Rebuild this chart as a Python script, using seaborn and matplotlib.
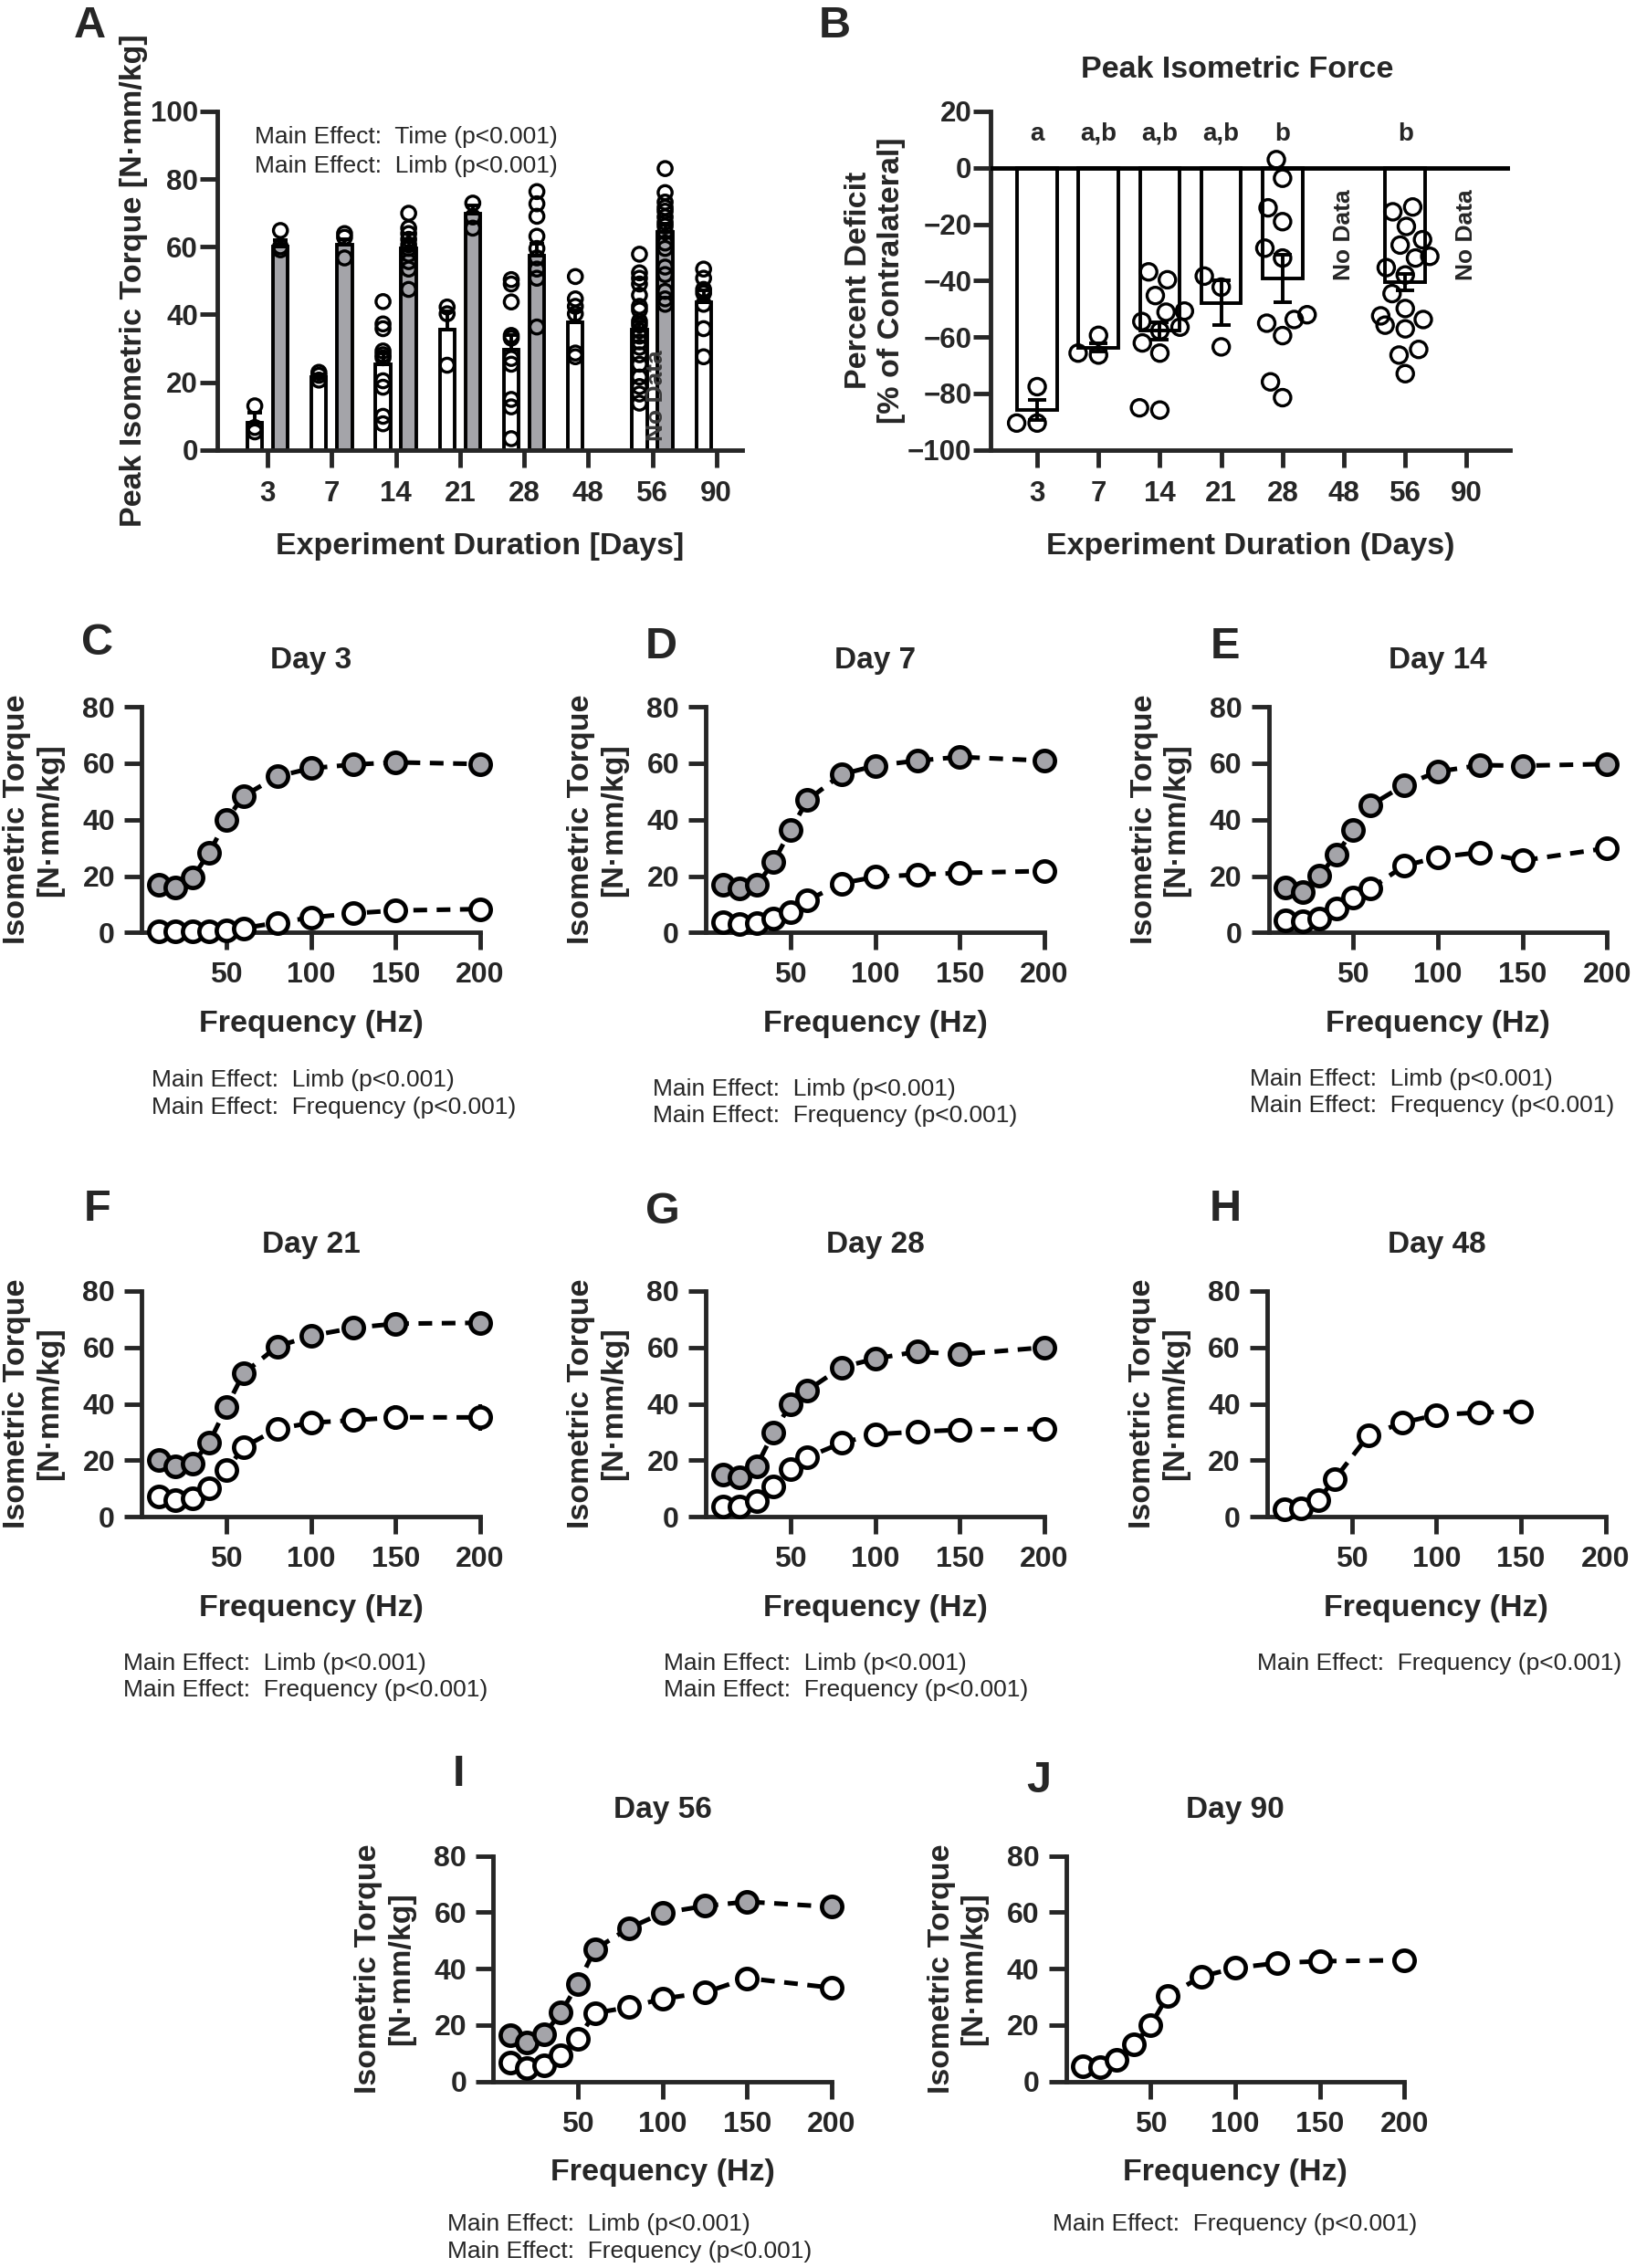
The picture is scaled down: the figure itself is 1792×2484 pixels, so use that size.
import numpy as np
import pandas as pd
import matplotlib
matplotlib.use("Agg")
import matplotlib.pyplot as plt
import seaborn as sns

# ---------------- Panel A: peak isometric torque [N·mm/kg] ----------------
days = ["3", "7", "14", "21", "28", "48", "56", "90"]
inj_mean = [8.0, 21.5, 25.3, 35.4, 29.5, 37.8, 35.5, 43.7]
inj_sem = [3.0, 0.7, 3.3, 5.5, 4.5, 3.5, 2.5, 3.5]
con_mean = [60.0, 60.6, 59.5, 69.7, 57.3, np.nan, 64.5, np.nan]
con_sem = [2.0, 1.5, 1.8, 2.5, 3.5, np.nan, 2.2, np.nan]
inj_points = [
    [13.0, 6.6, 5.3],
    [22.9, 22.0, 20.6],
    [43.8, 37.2, 35.8, 29.2, 28.1, 27.2, 20.4, 18.5, 9.9, 7.7],
    [42.2, 40.2, 25.0],
    [50.3, 49.0, 43.7, 33.8, 33.0, 27.0, 25.3, 14.9, 12.7, 3.3],
    [51.2, 44.6, 42.4, 40.2, 28.6, 27.5],
    [57.8, 52.3, 50.7, 49.0, 45.7, 42.4, 41.3, 38.0, 36.9, 35.2, 33.6, 31.9,
     30.3, 28.1, 25.3, 21.5, 18.7, 16.5, 13.8],
    [53.4, 50.7, 47.4, 46.3, 43.0, 35.8, 27.5],
]
con_points = [
    [64.8, 60.0, 59.1],
    [63.9, 62.8, 56.7],
    [69.9, 65.5, 63.9, 62.2, 60.6, 59.5, 57.8, 55.6, 53.4, 47.4],
    [72.9, 68.8, 65.5],
    [76.3, 72.7, 69.0, 63.1, 59.5, 56.7, 53.4, 50.7, 36.3],
    [],
    [83.1, 76.0, 73.2, 71.6, 70.5, 68.8, 67.2, 66.1, 64.4, 61.1, 59.5, 54.0,
     51.8, 46.8, 44.6, 43.0],
    [],
]

# ---------------- Panel B: percent deficit (% of contralateral) ----------------
def_mean = [-85.8, -63.7, -57.8, -47.9, -39.3, np.nan, -40.6, np.nan]
def_sem = [3.6, 1.5, 3.0, 8.0, 8.5, np.nan, 3.0, np.nan]
def_letters = ["a", "a,b", "a,b", "a,b", "b", "", "b", ""]
def_points = [
    [-77.6, -90.5, -90.5],
    [-59.4, -66.4, -65.7],
    [-36.9, -39.7, -45.3, -51.2, -50.8, -54.5, -56.5, -57.8, -62.1, -65.7, -85.9, -85.1],
    [-38.4, -42.3, -63.5],
    [2.9, -3.7, -14.2, -19.1, -28.5, -32.0, -52.1, -53.8, -55.1, -59.5, -75.9, -81.5],
    [],
    [-13.9, -15.6, -20.8, -25.5, -27.4, -31.4, -32.0, -35.4, -38.0, -44.6, -49.9,
     -52.5, -53.8, -55.8, -57.1, -64.4, -66.4, -73.0],
    [],
]

# ---------------- Panels C-J: torque-frequency curves ----------------
freqs = [10, 20, 30, 40, 50, 60, 80, 100, 125, 150, 200]
day3_con = [16.8, 15.9, 19.5, 28.4, 39.8, 48.3, 55.3, 58.2, 59.5, 60.3, 59.7]
day3_inj = [0.3, 0.3, 0.3, 0.3, 0.6, 1.5, 3.5, 5.3, 6.8, 7.8, 8.3]
day7_con = [16.8, 15.5, 16.8, 24.9, 36.3, 46.9, 56.0, 59.1, 60.9, 62.2, 60.9]
day7_inj = [3.7, 3.1, 3.5, 5.0, 7.2, 11.4, 17.4, 19.7, 20.5, 21.1, 21.8]
day14_con = [15.9, 14.3, 20.1, 27.6, 36.3, 45.0, 52.2, 57.0, 59.3, 59.1, 59.7]
day14_inj = [4.4, 4.0, 5.0, 8.5, 12.4, 15.5, 23.6, 26.7, 28.4, 25.5, 29.9]
day21_con = [20.1, 18.0, 18.9, 26.4, 38.8, 50.7, 60.3, 64.1, 66.9, 68.4, 68.7]
day21_inj = [7.2, 5.8, 6.6, 10.0, 16.4, 24.6, 31.1, 33.3, 34.2, 35.2, 35.2]
day21_inj_err = [0, 0, 0, 0, 0, 0, 0, 2.0, 3.8, 4.3, 4.8]
day28_con = [14.9, 13.9, 18.0, 29.9, 39.8, 44.8, 52.9, 56.0, 58.5, 57.5, 60.0]
day28_inj = [3.7, 3.7, 5.6, 10.6, 16.8, 21.1, 26.1, 29.2, 30.1, 30.8, 31.1]
day48_inj = [2.5, 3.1, 5.8, 13.4, np.nan, 28.9, 33.3, 36.1, 36.9, 37.3, np.nan]
day56_con = [16.4, 13.9, 16.6, 24.5, 34.5, 46.8, 54.3, 59.7, 62.2, 63.7, 61.9]
day56_inj = [6.6, 4.8, 5.8, 9.4, 15.1, 24.2, 26.3, 29.3, 31.5, 36.6, 33.2]
day90_inj = [5.4, 5.2, 7.6, 13.0, 19.9, 30.3, 37.2, 40.2, 42.0, 42.6, 43.0]

GRAY = "#a4a4a9"
LW = 3.5
W, H = 1131, 1568          # layout grid (reference pixels at 1131 px width)


def box(l, r, t, b):
    return [l / W, 1 - b / H, (r - l) / W, (b - t) / H]


def style_axes(ax, ypad, xpad=8, size=23):
    sns.despine(ax=ax)
    for s in ("left", "bottom"):
        ax.spines[s].set_linewidth(LW)
    ax.tick_params(axis="both", length=14, width=LW, labelsize=size, direction="out")
    ax.tick_params(axis="x", pad=xpad)
    ax.tick_params(axis="y", pad=ypad)


def hollow(ax, n0, lw=2.4):
    for coll in ax.collections[n0:]:
        coll.set_facecolor("none")
        coll.set_edgecolor("black")
        coll.set_linewidth(lw)


sns.set_style("ticks")
plt.rcParams["font.family"] = ["Liberation Sans", "DejaVu Sans"]
plt.rcParams["font.weight"] = "bold"
plt.rcParams["axes.labelweight"] = "bold"

fig = plt.figure(figsize=(17.92, 24.84), dpi=100)


def letter(x, y, s):
    fig.text(x / W, 1 - y / H, s, fontsize=35, fontweight="bold", ha="center", va="center")


def notes(x, y, lines, step=18.5):
    for k, s in enumerate(lines):
        fig.text(x / W, 1 - (y + k * step) / H, s, fontsize=19, fontweight="normal",
                 ha="left", va="center")


# ======================= Panel A =======================
axA = fig.add_axes(box(150, 513, 77, 311))
limbs = ["Injured", "Contralateral"]
pal = {"Injured": "white", "Contralateral": GRAY}
barsA = pd.DataFrame({"day": days * 2, "limb": ["Injured"] * 8 + ["Contralateral"] * 8,
                      "torque": inj_mean + con_mean}).dropna()
sns.barplot(data=barsA, x="day", y="torque", hue="limb", order=days, hue_order=limbs,
            palette=pal, saturation=1, width=0.8, gap=0.42, edgecolor="black",
            linewidth=2.8, errorbar=None, legend=False, ax=axA, zorder=2)
xi = np.arange(len(days))
axA.errorbar(xi - 0.2, inj_mean, yerr=[np.zeros(8), inj_sem], fmt="none", ecolor="black",
             elinewidth=2.8, capsize=6, capthick=2.8, zorder=3)
axA.errorbar(xi + 0.2, con_mean, yerr=[np.zeros(8), con_sem], fmt="none", ecolor="black",
             elinewidth=2.8, capsize=6, capthick=2.8, zorder=3)
rows = []
for d, a, b in zip(days, inj_points, con_points):
    rows += [(d, "Injured", v) for v in a] + [(d, "Contralateral", v) for v in b]
ptsA = pd.DataFrame(rows, columns=["day", "limb", "torque"])
n0 = len(axA.collections)
sns.stripplot(data=ptsA, x="day", y="torque", hue="limb", order=days, hue_order=limbs,
              palette=pal, dodge=True, jitter=False, size=11, legend=False, ax=axA, zorder=4)
hollow(axA, n0)
axA.text(6.07, 16, "No Data", rotation=90, ha="center", va="center", fontsize=19,
         color="#3a3a3a", zorder=6)
axA.set_xlim(-0.79, 7.40)
axA.set_ylim(0, 100)
axA.set_yticks([0, 20, 40, 60, 80, 100])
style_axes(axA, ypad=1, xpad=10, size=22.5)
axA.set_xlabel("Experiment Duration [Days]", fontsize=24.5, va="center")
axA.xaxis.set_label_coords(0.5, -0.286)
axA.set_ylabel("Peak Isometric Torque [N·mm/kg]", fontsize=24.5, va="center", ha="center")
axA.yaxis.set_label_coords(-0.158, 0.5)
letter(62, 18, "A")
notes(176, 95, ["Main Effect:  Time (p<0.001)", "Main Effect:  Limb (p<0.001)"], step=20)

# ======================= Panel B =======================
axB = fig.add_axes(box(685, 1044, 77, 311))
barsB = pd.DataFrame({"day": days, "deficit": def_mean}).dropna()
sns.barplot(data=barsB, x="day", y="deficit", order=days, color="white", saturation=1,
            width=0.65, edgecolor="black", linewidth=2.8, errorbar=None, ax=axB, zorder=2)
axB.errorbar(xi, def_mean, yerr=def_sem, fmt="none", ecolor="black", elinewidth=2.8,
             capsize=7, capthick=2.8, zorder=3)
rowsB = [(d, v) for d, vals in zip(days, def_points) for v in vals]
ptsB = pd.DataFrame(rowsB, columns=["day", "deficit"])
n0 = len(axB.collections)
sns.swarmplot(data=ptsB, x="day", y="deficit", order=days, size=13, color="white",
              ax=axB, zorder=4)
hollow(axB, n0)
axB.axhline(0, color="black", lw=LW, zorder=3)
for i, s in enumerate(def_letters):
    axB.text(i, 12.0, s, ha="center", va="center", fontsize=20)
for i in (5, 7):
    axB.text(i, -23.8, "No Data", rotation=90, ha="center", va="center", fontsize=19)
axB.set_xlim(-0.755, 7.71)
axB.set_ylim(-100, 20)
axB.set_yticks([-100, -80, -60, -40, -20, 0, 20])
style_axes(axB, ypad=1, xpad=10, size=22.5)
axB.text(0.474, 1.124, "Peak Isometric Force", transform=axB.transAxes, ha="center",
         va="center", fontsize=24.5)
axB.set_xlabel("Experiment Duration (Days)", fontsize=24.5, va="center")
axB.xaxis.set_label_coords(0.5, -0.286)
axB.set_ylabel("Percent Deficit\n[% of Contralateral]", fontsize=24.5, va="center", ha="center")
axB.yaxis.set_label_coords(-0.223, 0.5)
letter(577, 18, "B")

# ======================= Panels C-J =======================
ROW1, ROW2, ROW3 = (488.6, 644.7), (892.5, 1048.6), (1283, 1439)
limb_note = "Main Effect:  Limb (p<0.001)"
freq_note = "Main Effect:  Frequency (p<0.001)"

panels = [
    # letter, letter xy, axes left, row, title, contralateral, injured, injured err, note xy, notes
    ("C", (67, 445), 98, ROW1, "Day 3", day3_con, day3_inj, None, (105, 747), [limb_note, freq_note]),
    ("D", (457, 447), 488, ROW1, "Day 7", day7_con, day7_inj, None, (451, 753), [limb_note, freq_note]),
    ("E", (847, 447), 877, ROW1, "Day 14", day14_con, day14_inj, None, (864, 746), [limb_note, freq_note]),
    ("F", (67, 836), 98, ROW2, "Day 21", day21_con, day21_inj, day21_inj_err, (85, 1150), [limb_note, freq_note]),
    ("G", (458, 838), 488, ROW2, "Day 28", day28_con, day28_inj, None, (459, 1150), [limb_note, freq_note]),
    ("H", (847, 836), 876, ROW2, "Day 48", None, day48_inj, None, (869, 1150), [freq_note]),
    ("I", (317, 1227), 341, ROW3, "Day 56", day56_con, day56_inj, None, (309, 1538), [limb_note, freq_note]),
    ("J", (718, 1231), 737, ROW3, "Day 90", None, day90_inj, None, (728, 1538), [freq_note]),
]

line_kw = dict(color="black", linewidth=3.6, linestyle=(0, (3.0, 2.1)), marker="o",
               markersize=16, markeredgecolor="black", markeredgewidth=3.4,
               clip_on=False, errorbar=None)

for lab, lxy, left, row, title, con, inj, inj_err, nxy, nl in panels:
    ax = fig.add_axes(box(left, left + 234, row[0], row[1]))
    if inj_err is not None:
        ax.errorbar(freqs, inj, yerr=inj_err, fmt="none", ecolor="black", elinewidth=3.0,
                    capsize=0, zorder=4, clip_on=False)
    sns.lineplot(x=freqs, y=inj, ax=ax, markerfacecolor="white", zorder=5, **line_kw)
    if con is not None:
        sns.lineplot(x=freqs, y=con, ax=ax, markerfacecolor=GRAY, zorder=6, **line_kw)
    ax.set_xlim(0, 200)
    ax.set_ylim(0, 80)
    ax.set_xticks([50, 100, 150, 200])
    ax.set_yticks([0, 20, 40, 60, 80])
    style_axes(ax, ypad=7, xpad=9)
    ax.text(0.5, 1.203, title, transform=ax.transAxes, ha="center", va="center", fontsize=24)
    ax.set_xlabel("Frequency (Hz)", fontsize=24.5, va="center")
    ax.xaxis.set_label_coords(0.5, -0.404)
    ax.set_ylabel("Isometric Torque\n[N·mm/kg]", fontsize=24.5, va="center", ha="center")
    ax.yaxis.set_label_coords(-0.32, 0.5)
    letter(lxy[0], lxy[1], lab)
    notes(nxy[0], nxy[1], nl)

fig.savefig("out.png", dpi=100)
